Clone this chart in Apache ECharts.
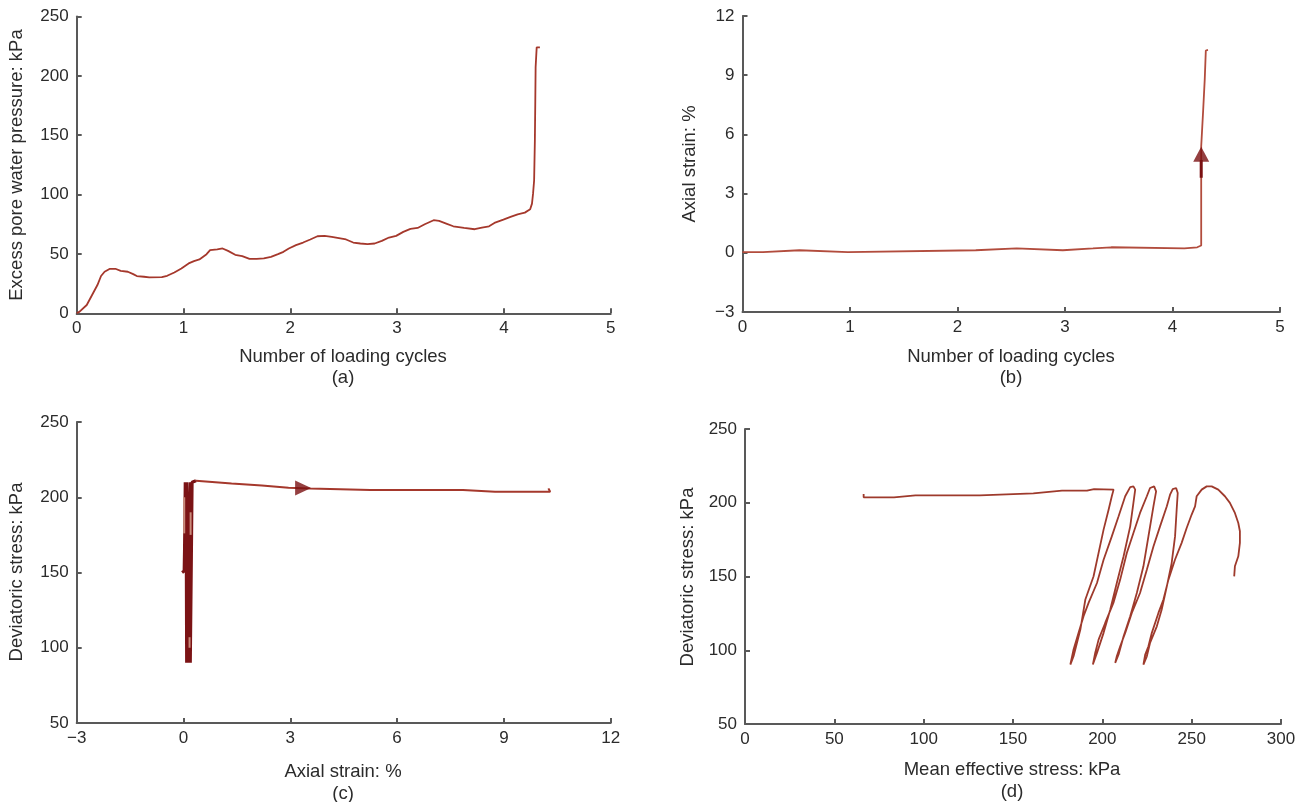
<!DOCTYPE html>
<html>
<head>
<meta charset="utf-8">
<script src="https://cdn.jsdelivr.net/npm/echarts@6/dist/echarts.min.js"></script>
<style>
html,body{margin:0;padding:0;background:#fff;}
#c{width:1310px;height:802px;}
</style>
</head>
<body>
<div id="c"></div>
<script>
// ---------- DATA ----------
// (a) excess pore water pressure vs cycles
const poreCycles = [0,0.027,0.094,0.144,0.194,0.228,0.261,0.311,0.362,0.412,0.479,0.529,0.563,0.63,0.68,0.797,0.847,0.914,0.98,1.048,1.098,1.149,1.216,1.249,1.316,1.366,1.417,1.484,1.55,1.618,1.685,1.752,1.819,1.885,1.936,1.986,2.053,2.12,2.187,2.254,2.321,2.388,2.455,2.522,2.589,2.656,2.723,2.79,2.857,2.924,2.991,3.058,3.125,3.192,3.259,3.342,3.393,3.46,3.526,3.627,3.727,3.794,3.861,3.911,3.995,4.062,4.129,4.196,4.246,4.263,4.273,4.283,4.29,4.294,4.297,4.307,4.337];
const porePressure = [0,1.4,7.0,15.4,23.8,31.4,35.0,37.5,37.5,35.8,35.0,33.0,31.4,30.8,30.2,30.5,31.6,34.4,37.8,42.0,44.0,45.4,49.8,53.2,53.8,54.6,52.6,49.3,48.2,45.9,45.9,46.2,47.6,49.8,51.8,54.6,57.4,59.6,62.2,64.9,65.2,64.4,63.3,62.2,59.6,58.8,58.2,58.8,61.0,63.8,65.2,68.6,71.1,71.9,75.0,78.4,77.8,75.6,73.3,71.9,70.8,72.2,73.3,76.1,78.9,81.2,83.4,84.8,87.6,92.4,100.8,112,145.6,179.2,207.2,224,224];

// (b) axial strain vs cycles
const strainCycles = [0,0.19,0.19,0.53,0.53,0.98,0.98,2.17,2.17,2.55,2.55,2.98,2.98,3.26,3.26,3.43,3.43,4.11,4.11,4.23,4.23,4.267,4.267,4.285,4.30,4.31,4.33];
const strainValues = [0.03,0.03,0.13,0.13,0.03,0.03,0.13,0.13,0.22,0.22,0.13,0.13,0.22,0.22,0.28,0.28,0.22,0.22,0.28,0.28,0.37,0.37,5.4,7.2,8.8,10.25,10.28];
const strainArrowShaftX = [4.267,4.267];
const strainArrowShaftY = [3.8,4.7];
const strainArrowHead = [4.267,5.0];

// (c) deviatoric stress vs axial strain
const cyclicStrain = [-0.04,0.02,0.03,0.04,0.05,0.08,0.09,0.13,0.12,0.10,0.15,0.16,0.14,0.18,0.17,0.20,0.22,0.20,0.19,0.20,0.22,0.24,0.35];
const cyclicStress = [150,151,165,185,210,160,90,90,150,210,210,150,90,90,150,210,190,150,90,90,160,210,211];
const failStrain = [0.35,1.35,2.2,2.95,3.55,5.25,7.85,8.75,10.3,10.25];
const failStress = [211,209.2,207.8,206.3,205.8,204.8,204.8,203.7,203.7,205.9];
const stressArrowHead = [3.36,206.1];
const streaks = [
  [[0.02,176],[0.02,200]],
  [[0.20,175],[0.20,190]],
  [[0.17,100],[0.17,107]]
];

// (d) deviatoric stress vs mean effective stress
const meanP = [273.8,274.2,276.1,277.0,277.0,276.1,274.2,271.4,268.6,264.9,261.2,258.4,255.6,252.8,251.9,250.0,247.2,244.4,240.7,237.0,234.2,231.4,227.7,225.8,224.0,223.0,
  224.9,226.7,230.5,233.2,236.1,238.8,240.7,241.6,242.2,241.3,239.4,237.9,236.1,232.3,228.6,224.9,221.1,216.5,212.8,210.0,208.1,207.2,
  209.1,211.9,215.6,219.3,223.0,225.8,228.6,230.1,229.0,226.7,224.9,221.1,217.4,213.7,210.0,206.2,201.6,197.9,196.0,194.7,
  197.0,200.7,204.4,208.1,211.9,215.6,217.4,218.4,217.4,215.6,212.8,209.1,205.3,200.7,197.0,192.3,189.5,186.7,183.9,182.1,
  183.9,187.7,190.5,195.1,197.9,200.7,203.5,205.3,206.3,206.3,
  195.4,191.4,177.4,161.4,131.4,95.4,83.4,66.4,66.4];
const devQ = [150.1,156.9,163.7,172.8,180.7,186.3,193.1,199.9,204.4,208.9,211.1,211.1,208.9,204.4,197.6,192.0,182.9,172.8,161.5,147.9,134.4,125.3,111.8,102.7,97.1,90.3,
  95.9,104.9,116.2,127.5,143.3,159.1,177.2,195.3,206.6,210.0,209.3,205.5,197.6,184.0,170.4,154.6,138.8,125.3,111.8,102.7,95.9,91.4,
  97.1,109.5,123.1,138.8,156.9,177.2,197.6,207.7,211.1,210.0,204.4,193.1,179.5,165.9,147.9,132.1,118.5,107.2,98.2,90.3,
  98.2,111.8,127.5,145.6,163.7,184.0,199.9,208.9,211.1,210.6,204.4,190.8,177.2,161.4,145.6,132.1,123.1,111.8,100.5,90.3,
  95.9,114.0,134.4,150.2,166.0,181.8,195.3,204.4,208.9,210.0,
  209.3,208.2,208.2,206.4,205.0,205.0,203.7,203.7,205.9];

// ticks
const cycleTicks = [0,1,2,3,4,5];
const strainTicks = [-3,0,3,6,9,12];

// ---------- helpers ----------
const zip = (xs, ys) => xs.map((x, i) => [x, ys[i]]);
const FONT = "'Liberation Sans', Arial, sans-serif";
const AX = '#595959';
const TXT = '#2b2b2b';
const minus = v => String(v).replace('-', '\u2212');

function axis(idx, min, max, interval, isX) {
  return {
    gridIndex: idx, type: 'value', min, max, interval,
    axisLine: {show: true, onZero: false, lineStyle: {color: AX, width: 2}},
    axisTick: {show: true, inside: true, length: 5, lineStyle: {color: AX, width: 2}},
    splitLine: {show: false},
    axisLabel: {color: TXT, fontSize: 17, fontFamily: FONT, margin: isX ? 7 : 8, formatter: minus}
  };
}

const chart = echarts.init(document.getElementById('c'), null, {renderer: 'canvas'});

const txt = (x, y, s, rot, size) => ({
  type: 'text', x, y, rotation: rot || 0,
  style: {text: s, fill: TXT, font: (size || 18.5) + 'px ' + FONT, align: 'center', verticalAlign: 'middle'}
});

const lineS = (xi, data, color, width, z) => ({
  type: 'line', xAxisIndex: xi, yAxisIndex: xi, data, showSymbol: false, symbol: 'none',
  lineStyle: {color, width}, animation: false, z: z || 2, silent: true
});

const series = [
  lineS(0, zip(poreCycles, porePressure), '#a5382c', 1.8),
  lineS(1, zip(strainCycles, strainValues), '#b24c3d', 1.8),
  lineS(1, zip(strainArrowShaftX, strainArrowShaftY), '#7a1012', 3, 3),
  {type: 'scatter', xAxisIndex: 1, yAxisIndex: 1, data: [strainArrowHead], symbol: 'triangle',
   symbolSize: [16, 15], itemStyle: {color: '#7a1012'}, animation: false, z: 4, silent: true},
  lineS(2, zip(cyclicStrain, cyclicStress), '#7b1315', 3.2, 3),
  lineS(2, zip(failStrain, failStress), '#a5382c', 2),
  {type: 'scatter', xAxisIndex: 2, yAxisIndex: 2, data: [stressArrowHead], symbol: 'triangle',
   symbolRotate: -90, symbolSize: [15, 16], itemStyle: {color: '#7a1012'}, animation: false, z: 4, silent: true},
  lineS(3, zip(meanP, devQ), '#9e3a2c', 1.8)
];
streaks.forEach(s => series.push(lineS(2, s, '#c98a7a', 2, 5)));

chart.setOption({
  backgroundColor: '#fff',
  animation: false,
  grid: [
    {left: 76.7, right: 699.3, top: 16.5, bottom: 488.7, containLabel: false},
    {left: 742.5, right: 30, top: 16, bottom: 490, containLabel: false},
    {left: 76.7, right: 699.3, top: 422, bottom: 79, containLabel: false},
    {left: 745, right: 29, top: 429, bottom: 78, containLabel: false}
  ],
  xAxis: [
    axis(0, cycleTicks[0], cycleTicks[cycleTicks.length - 1], 1, true),
    axis(1, cycleTicks[0], cycleTicks[cycleTicks.length - 1], 1, true),
    axis(2, strainTicks[0], strainTicks[strainTicks.length - 1], 3, true),
    axis(3, 0, 300, 50, true)
  ],
  yAxis: [
    axis(0, 0, 250, 50, false),
    axis(1, -3, 12, 3, false),
    axis(2, 50, 250, 50, false),
    axis(3, 50, 250, 50, false)
  ],
  series,
  graphic: [
    txt(17, 165, 'Excess pore water pressure: kPa', Math.PI / 2),
    txt(343, 356.5, 'Number of loading cycles'),
    txt(343, 378, '(a)'),
    txt(690, 164, 'Axial strain: %', Math.PI / 2),
    txt(1011, 356.5, 'Number of loading cycles'),
    txt(1011, 378, '(b)'),
    txt(17, 572, 'Deviatoric stress: kPa', Math.PI / 2),
    txt(343, 772, 'Axial strain: %'),
    txt(343, 794, '(c)'),
    txt(688, 577, 'Deviatoric stress: kPa', Math.PI / 2),
    txt(1012, 770, 'Mean effective stress: kPa'),
    txt(1012, 792, '(d)')
  ]
});
</script>
</body>
</html>
